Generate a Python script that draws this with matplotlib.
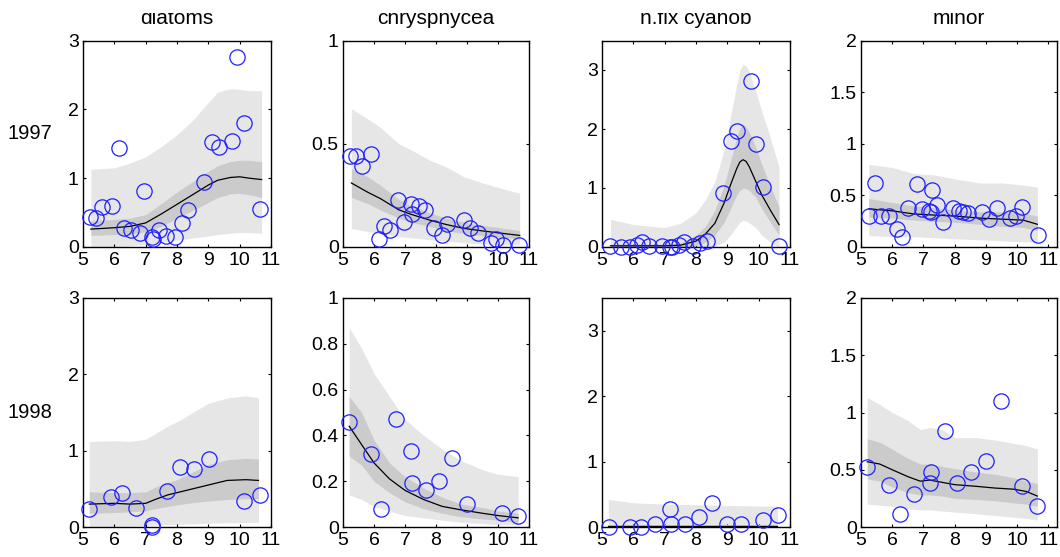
import matplotlib
matplotlib.use('Agg')
import matplotlib.pyplot as plt
from matplotlib.patches import Rectangle
from matplotlib.ticker import FormatStrFormatter

plt.rcParams['font.family'] = ['Liberation Sans', 'DejaVu Sans']

groups = ['diatoms', 'chrysphycea', 'n.fix cyanob', 'minor']
years = ['1997', '1998']
ylims = [3, 1, 3.5, 2]
yticks = [[0, 1, 2, 3], [0, 0.5, 1], [0, 1, 2, 3], [0, 0.5, 1, 1.5, 2]]
yticks_98 = [[0, 1, 2, 3], [0, 0.2, 0.4, 0.6, 0.8, 1], [0, 1, 2, 3], [0, 0.5, 1, 1.5, 2]]
xticks = [5, 6, 7, 8, 9, 10, 11]

# ---- 1997 diatoms
dia97_x = [5.23, 5.43, 5.62, 5.92, 6.15, 6.31, 6.53, 6.81, 6.95, 7.24, 7.20, 7.43, 7.64,
           7.93, 8.16, 8.36, 8.87, 9.11, 9.33, 9.74, 9.91, 10.14, 10.66]
dia97_y = [0.43, 0.42, 0.58, 0.59, 1.44, 0.28, 0.25, 0.21, 0.82, 0.12, 0.14, 0.24, 0.16,
           0.14, 0.35, 0.54, 0.95, 1.52, 1.46, 1.54, 2.76, 1.80, 0.55]
dia97_g = [5.25, 6.0, 6.5, 7.0, 7.5, 8.0, 8.5, 9.0, 9.3, 9.7, 10.0, 10.3, 10.7]
dia97_m = [0.26, 0.28, 0.30, 0.35, 0.48, 0.62, 0.76, 0.90, 0.97, 1.01, 1.02, 1.00, 0.98]
dia97_dlo = [0.17, 0.18, 0.19, 0.22, 0.30, 0.42, 0.53, 0.65, 0.72, 0.77, 0.78, 0.76, 0.72]
dia97_dhi = [0.38, 0.40, 0.42, 0.47, 0.63, 0.80, 0.95, 1.10, 1.18, 1.24, 1.26, 1.26, 1.24]
dia97_llo = [0.0, 0.01, 0.02, 0.04, 0.07, 0.10, 0.13, 0.16, 0.18, 0.20, 0.21, 0.21, 0.20]
dia97_lhi = [1.13, 1.15, 1.22, 1.31, 1.46, 1.63, 1.84, 2.10, 2.25, 2.30, 2.29, 2.27, 2.27]

# ---- 1997 chrysphycea
chr97_x = [5.24, 5.42, 5.61, 5.89, 6.15, 6.31, 6.50, 6.79, 6.96, 7.18, 7.23, 7.44, 7.64,
           7.94, 8.18, 8.36, 8.89, 9.11, 9.34, 9.79, 9.95, 10.16, 10.67]
chr97_y = [0.44, 0.44, 0.39, 0.45, 0.04, 0.10, 0.08, 0.23, 0.12, 0.21, 0.16, 0.20, 0.18,
           0.09, 0.06, 0.11, 0.13, 0.09, 0.07, 0.02, 0.04, 0.01, 0.01]
chr97_g = [5.27, 5.8, 6.2, 6.8, 7.2, 7.8, 8.3, 8.9, 9.5, 10.2, 10.7]
chr97_m = [0.31, 0.265, 0.235, 0.18, 0.158, 0.13, 0.11, 0.09, 0.078, 0.065, 0.056]
chr97_dlo = [0.24, 0.21, 0.18, 0.14, 0.12, 0.10, 0.08, 0.065, 0.055, 0.045, 0.04]
chr97_dhi = [0.38, 0.34, 0.30, 0.23, 0.20, 0.165, 0.14, 0.12, 0.105, 0.09, 0.08]
chr97_llo = [0.09, 0.075, 0.065, 0.05, 0.045, 0.035, 0.03, 0.02, 0.015, 0.01, 0.01]
chr97_lhi = [0.67, 0.62, 0.58, 0.50, 0.47, 0.42, 0.39, 0.34, 0.31, 0.28, 0.26]

# ---- 1997 n.fix cyanob
cya97_x = [5.27, 5.62, 5.88, 6.12, 6.28, 6.49, 6.91, 7.16, 7.23, 7.45, 7.62, 7.91, 8.14,
           8.36, 8.86, 9.11, 9.32, 9.76, 9.91, 10.14, 10.66]
cya97_y = [0.01, 0.0, 0.0, 0.03, 0.08, 0.01, 0.02, 0.0, 0.0, 0.03, 0.08, 0.02, 0.07,
           0.11, 0.91, 1.80, 1.97, 2.81, 1.74, 1.01, 0.01]
cya97_g = [5.27, 6.0, 7.0, 7.5, 8.0, 8.3, 8.6, 8.9, 9.1, 9.3, 9.4, 9.5, 9.6, 9.7, 9.9,
           10.1, 10.4, 10.65]
cya97_m = [0.02, 0.02, 0.02, 0.03, 0.10, 0.22, 0.40, 0.75, 1.05, 1.33, 1.44, 1.48, 1.45,
           1.36, 1.12, 0.88, 0.60, 0.38]
cya97_dlo = [0.0, 0.0, 0.0, 0.0, 0.02, 0.08, 0.20, 0.42, 0.65, 0.88, 0.96, 1.00, 0.99,
             0.96, 0.85, 0.65, 0.40, 0.20]
cya97_dhi = [0.05, 0.05, 0.05, 0.07, 0.20, 0.35, 0.62, 1.05, 1.45, 1.85, 2.02, 2.08, 2.04,
             1.95, 1.70, 1.40, 1.00, 0.68]
cya97_llo = [0.0, 0.0, 0.0, 0.0, 0.0, 0.0, 0.02, 0.08, 0.20, 0.35, 0.42, 0.45, 0.44,
             0.41, 0.33, 0.20, 0.07, 0.0]
cya97_lhi = [0.47, 0.38, 0.33, 0.40, 0.58, 0.80, 1.10, 1.65, 2.20, 2.75, 3.00, 3.10, 3.07,
             2.97, 2.65, 2.30, 1.80, 1.35]

# ---- 1997 minor
min97_x = [5.26, 5.44, 5.63, 5.90, 6.15, 6.31, 6.49, 6.81, 6.95, 7.19, 7.27, 7.25, 7.44,
           7.64, 7.94, 8.14, 8.27, 8.42, 8.89, 9.10, 9.36, 9.76, 9.97, 10.16, 10.67]
min97_y = [0.30, 0.62, 0.30, 0.30, 0.17, 0.10, 0.38, 0.61, 0.37, 0.35, 0.55, 0.34, 0.41,
           0.24, 0.38, 0.35, 0.34, 0.33, 0.34, 0.27, 0.38, 0.28, 0.30, 0.39, 0.12]
min97_g = [5.25, 6.0, 6.7, 7.3, 8.0, 8.8, 9.5, 10.2, 10.65]
min97_m = [0.37, 0.35, 0.32, 0.31, 0.30, 0.28, 0.27, 0.26, 0.22]
min97_dlo = [0.29, 0.28, 0.26, 0.25, 0.24, 0.22, 0.20, 0.19, 0.16]
min97_dhi = [0.47, 0.43, 0.40, 0.38, 0.36, 0.34, 0.34, 0.33, 0.30]
min97_llo = [0.11, 0.10, 0.10, 0.09, 0.08, 0.07, 0.06, 0.05, 0.05]
min97_lhi = [0.80, 0.77, 0.71, 0.70, 0.66, 0.62, 0.62, 0.60, 0.58]

# ---- 1998 diatoms
dia98_x = [5.19, 5.89, 6.25, 6.69, 7.19, 7.21, 7.67, 8.10, 8.53, 9.01, 10.15, 10.64]
dia98_y = [0.23, 0.39, 0.44, 0.25, 0.02, 0.0, 0.47, 0.79, 0.76, 0.89, 0.34, 0.42]
dia98_g = [5.2, 6.0, 6.5, 7.0, 7.3, 7.7, 8.0, 8.5, 9.0, 9.6, 10.2, 10.6]
dia98_m = [0.30, 0.31, 0.30, 0.31, 0.36, 0.42, 0.45, 0.50, 0.55, 0.61, 0.62, 0.61]
dia98_dlo = [0.18, 0.19, 0.20, 0.21, 0.24, 0.27, 0.29, 0.32, 0.34, 0.36, 0.37, 0.37]
dia98_dhi = [0.46, 0.45, 0.45, 0.46, 0.52, 0.58, 0.62, 0.72, 0.82, 0.88, 0.90, 0.89]
dia98_llo = [0.01, 0.01, 0.015, 0.02, 0.025, 0.03, 0.035, 0.04, 0.05, 0.055, 0.06, 0.06]
dia98_lhi = [1.12, 1.13, 1.12, 1.15, 1.22, 1.32, 1.38, 1.50, 1.62, 1.69, 1.72, 1.69]

# ---- 1998 chrysphycea
chr98_x = [5.20, 5.89, 6.24, 6.71, 7.18, 7.22, 7.68, 8.09, 8.53, 9.01, 10.14, 10.66]
chr98_y = [0.46, 0.32, 0.08, 0.47, 0.33, 0.19, 0.16, 0.20, 0.30, 0.10, 0.06, 0.05]
chr98_g = [5.2, 5.6, 6.0, 6.5, 7.0, 7.6, 8.2, 8.8, 9.5, 10.0, 10.65]
chr98_m = [0.44, 0.36, 0.28, 0.21, 0.16, 0.12, 0.09, 0.075, 0.06, 0.05, 0.04]
chr98_dlo = [0.31, 0.27, 0.20, 0.15, 0.11, 0.08, 0.06, 0.045, 0.035, 0.03, 0.02]
chr98_dhi = [0.57, 0.50, 0.38, 0.28, 0.22, 0.17, 0.13, 0.10, 0.085, 0.07, 0.06]
chr98_llo = [0.14, 0.12, 0.09, 0.07, 0.05, 0.04, 0.03, 0.02, 0.015, 0.01, 0.01]
chr98_lhi = [0.87, 0.78, 0.67, 0.57, 0.47, 0.40, 0.34, 0.29, 0.25, 0.23, 0.22]

# ---- 1998 n.fix cyanob
cya98_x = [5.21, 5.88, 6.24, 6.68, 7.18, 7.21, 7.66, 8.09, 8.51, 9.00, 9.45, 10.14, 10.62]
cya98_y = [0.0, 0.0, 0.0, 0.04, 0.28, 0.04, 0.04, 0.16, 0.37, 0.04, 0.05, 0.10, 0.18]
cya98_g = [5.2, 5.7, 6.0, 7.0, 8.0, 9.0, 10.0, 10.6]
cya98_m = [0.01, 0.01, 0.01, 0.01, 0.01, 0.01, 0.01, 0.01]
cya98_dlo = [0.0, 0.0, 0.0, 0.0, 0.0, 0.0, 0.0, 0.0]
cya98_dhi = [0.03, 0.03, 0.03, 0.03, 0.03, 0.03, 0.03, 0.03]
cya98_llo = [0.0, 0.0, 0.0, 0.0, 0.0, 0.0, 0.0, 0.0]
cya98_lhi = [0.42, 0.39, 0.37, 0.35, 0.34, 0.33, 0.32, 0.32]

# ---- 1998 minor
min98_x = [5.20, 5.89, 6.25, 6.70, 7.24, 7.20, 7.68, 8.09, 8.52, 9.02, 9.48, 10.15, 10.65]
min98_y = [0.52, 0.37, 0.11, 0.29, 0.48, 0.38, 0.84, 0.38, 0.48, 0.58, 1.10, 0.36, 0.18]
min98_g = [5.2, 5.6, 6.0, 6.5, 6.9, 7.2, 7.6, 8.0, 8.7, 9.3, 9.9, 10.3, 10.65]
min98_m = [0.57, 0.55, 0.50, 0.44, 0.40, 0.41, 0.39, 0.37, 0.355, 0.34, 0.33, 0.31, 0.27]
min98_dlo = [0.42, 0.40, 0.35, 0.30, 0.28, 0.28, 0.27, 0.25, 0.24, 0.23, 0.21, 0.20, 0.18]
min98_dhi = [0.77, 0.74, 0.68, 0.60, 0.55, 0.55, 0.53, 0.51, 0.48, 0.46, 0.43, 0.40, 0.38]
min98_llo = [0.20, 0.19, 0.18, 0.16, 0.15, 0.15, 0.14, 0.13, 0.115, 0.10, 0.085, 0.075, 0.06]
min98_lhi = [1.13, 1.07, 1.00, 0.93, 0.85, 0.87, 0.85, 0.78, 0.78, 0.76, 0.73, 0.71, 0.68]

panels = [
    [(dia97_x, dia97_y, dia97_g, dia97_m, dia97_dlo, dia97_dhi, dia97_llo, dia97_lhi),
     (chr97_x, chr97_y, chr97_g, chr97_m, chr97_dlo, chr97_dhi, chr97_llo, chr97_lhi),
     (cya97_x, cya97_y, cya97_g, cya97_m, cya97_dlo, cya97_dhi, cya97_llo, cya97_lhi),
     (min97_x, min97_y, min97_g, min97_m, min97_dlo, min97_dhi, min97_llo, min97_lhi)],
    [(dia98_x, dia98_y, dia98_g, dia98_m, dia98_dlo, dia98_dhi, dia98_llo, dia98_lhi),
     (chr98_x, chr98_y, chr98_g, chr98_m, chr98_dlo, chr98_dhi, chr98_llo, chr98_lhi),
     (cya98_x, cya98_y, cya98_g, cya98_m, cya98_dlo, cya98_dhi, cya98_llo, cya98_lhi),
     (min98_x, min98_y, min98_g, min98_m, min98_dlo, min98_dhi, min98_llo, min98_lhi)],
]

W, H = 1060, 557
fig = plt.figure(figsize=(W / 100, H / 100), dpi=100)

# pixel boxes (left, right) per column and (top, bottom) per row
col_px = [(83, 271), (343, 529), (602, 790), (861, 1057)]
row_px = [(40.5, 247), (298, 527)]
xmax = [11, 11, 11, 11.28]

for r in range(2):
    for c in range(4):
        l, rr = col_px[c]
        t, b = row_px[r]
        ax = fig.add_axes([l / W, 1 - b / H, (rr - l) / W, (b - t) / H])
        xo, yo, g, m, dlo, dhi, llo, lhi = panels[r][c]
        ax.fill_between(g, llo, lhi, color='#e6e6e6', lw=0, zorder=1)
        ax.fill_between(g, dlo, dhi, color='#cbcbcb', lw=0, zorder=2)
        ax.plot(g, m, color='black', lw=0.9, zorder=3)
        ax.plot(xo, yo, 'o', ms=11, mfc='none', mec='#1f1fff', mew=0.9,
                clip_on=False, zorder=4)
        ax.set_xlim(5, xmax[c])
        ax.set_ylim(0, ylims[c])
        ax.set_xticks(xticks)
        ax.set_yticks(yticks[c] if r == 0 else yticks_98[c])
        ax.yaxis.set_major_formatter(FormatStrFormatter('%g'))
        ax.tick_params(direction='in', length=2.5, width=0.8, labelsize=14,
                       top=True, right=True, pad=3)
        ax.tick_params(axis='x', pad=3.5)
        for s in ax.spines.values():
            s.set_linewidth(1.0)
        if r == 0:
            ax.annotate(groups[c], xy=(0.5, 1), xycoords='axes fraction',
                        xytext=(0, 11.9), textcoords='offset points',
                        ha='center', va='baseline', fontsize=15)
        if c == 0:
            ax.annotate(years[r], xy=(0, 0.5 if r == 1 else 0.55), xycoords='axes fraction',
                        xytext=(-22, 0), textcoords='offset points',
                        ha='right', va='center', fontsize=14.5)

# top strip of the original is blanked, cutting the titles
fig.add_artist(Rectangle((0, 1 - 13 / H), 1, 13 / H, transform=fig.transFigure,
                         facecolor='white', edgecolor='none', zorder=10))

fig.savefig('out.png', dpi=100)
